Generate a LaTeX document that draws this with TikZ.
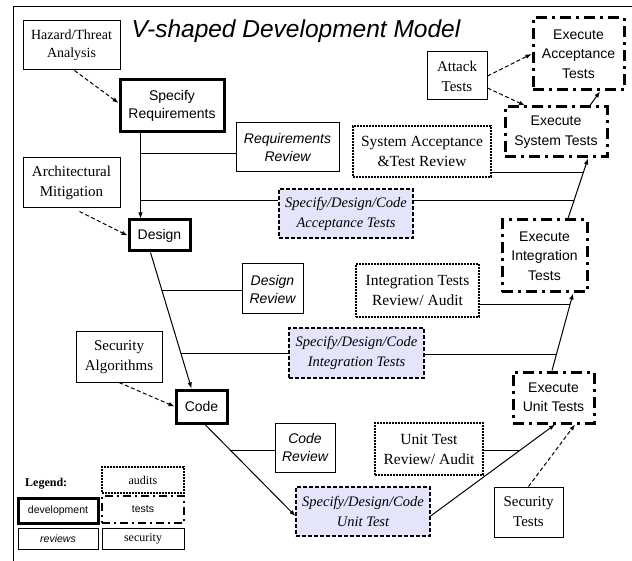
\documentclass[tikz,border=0pt]{standalone}
\usepackage{fontspec}
\setmainfont{Liberation Serif}
\setsansfont{Liberation Sans}
\usetikzlibrary{arrows.meta,calc}
\definecolor{lav}{RGB}{228,228,250}
\begin{document}
\begin{tikzpicture}[x=1pt,y=-1pt,
  every node/.style={align=center, inner sep=0pt},
  dev/.style={draw, line width=3pt, font=\sffamily\fontsize{14}{18}\selectfont},
  rev/.style={draw, line width=1pt, font=\sffamily\itshape\fontsize{14}{18}\selectfont},
  sec/.style={draw, line width=1pt, font=\fontsize{15}{20}\selectfont},
  aud/.style={draw, line width=2pt, dash pattern=on 2pt off 1pt, font=\fontsize{15.5}{20}\selectfont},
  spc/.style={draw, line width=1.2pt, dash pattern=on 4pt off 2pt, fill=lav, font=\itshape\fontsize{14.5}{20}\selectfont},
  tst/.style={draw, line width=3pt, dash pattern=on 11pt off 5pt on 3pt off 5pt, font=\sffamily\fontsize{14}{19.5}\selectfont},
  con/.style={line width=1pt},
  arr/.style={con, -{Latex[length=6pt,width=4.5pt]}},
  darr/.style={arr, dash pattern=on 4pt off 2.5pt}
]
\useasboundingbox (0,0) rectangle (632,561);
\draw[line width=1pt] (13,561) -- (13,7) -- (632,7);

\node[font=\sffamily\itshape\fontsize{24.5}{28}\selectfont, anchor=base] (title) at (296,38) {V-shaped Development Model};

% left side
\node[sec, minimum width=97, minimum height=49, font=\fontsize{14}{18}\selectfont] (haz) at (71.5,45.5) {Hazard/Threat\\Analysis};
\node[dev, minimum width=104, minimum height=52] (spec) at (172,106) {Specify\\Requirements};
\node[rev, minimum width=103, minimum height=49] (rrev) at (287.5,147.5) {Requirements\\Review};
\node[sec, minimum width=97, minimum height=50] (arch) at (71.5,183) {Architectural\\Mitigation};
\node[dev, minimum width=61, minimum height=31] (design) at (159.5,235.5) {Design};
\node[spc, minimum width=134, minimum height=49] (acc) at (346,213.5) {Specify/Design/Code\\Acceptance Tests};
\node[rev, minimum width=61, minimum height=50] (drev) at (272.5,289) {Design\\Review};
\node[sec, minimum width=86, minimum height=50] (secalg) at (119,357) {Security\\Algorithms};
\node[spc, minimum width=135, minimum height=50] (integ) at (356.5,353) {Specify/Design/Code\\Integration Tests};
\node[dev, minimum width=51, minimum height=33] (code) at (201.5,406.5) {Code};
\node[rev, minimum width=60, minimum height=49] (crev) at (305,447.5) {Code\\Review};
\node[spc, minimum width=134, minimum height=49] (unit) at (363,511.5) {Specify/Design/Code\\Unit Test};

% right side
\node[aud, minimum width=108, minimum height=52] (urev) at (429,449) {Unit Test\\Review/ Audit};
\node[aud, minimum width=123, minimum height=53] (irev) at (417.5,290.5) {Integration Tests\\Review/ Audit};
\node[aud, minimum width=138, minimum height=51] (srev) at (422,151.5) {System Acceptance\\\&Test Review};
\node[tst, minimum width=81, minimum height=51] (exunit) at (553.5,397.5) {Execute\\Unit Tests};
\node[tst, minimum width=85, minimum height=72] (exinteg) at (544.5,256) {Execute\\Integration\\Tests};
\node[tst, minimum width=102, minimum height=50] (exsys) at (556,132) {Execute\\System Tests};
\node[tst, minimum width=91, minimum height=72] (exacc) at (578.5,54) {Execute\\Acceptance\\Tests};
\node[sec, minimum width=60, minimum height=48] (attack) at (457,76) {Attack\\Tests};
\node[sec, minimum width=69, minimum height=50] (sectests) at (528.5,512) {Security\\Tests};

% legend
\node[font=\bfseries\fontsize{12}{14}\selectfont, anchor=base west] (legt) at (25,486) {Legend:};
\node[aud, line width=1.8pt, minimum width=82, minimum height=26, font=\fontsize{12}{14}\selectfont] (laud) at (143,480) {audits};
\node[dev, minimum width=80, minimum height=25, font=\sffamily\fontsize{10.5}{12}\selectfont] (ldev) at (58,510.5) {development};
\node[tst, line width=2.5pt, dash pattern=on 8pt off 4pt on 2pt off 4pt, minimum width=82, minimum height=27, font=\sffamily\fontsize{10.5}{12}\selectfont] (ltst) at (143,509.5) {tests};
\node[rev, minimum width=80, minimum height=21, font=\sffamily\itshape\fontsize{10.5}{12}\selectfont] (lrev) at (58,538.5) {reviews};
\node[sec, minimum width=82, minimum height=21, font=\fontsize{12}{14}\selectfont] (lsec) at (143,538.5) {security};

% left branch of the V
\coordinate (v1) at ($(spec.south west)+(22,0)$);
\draw[arr] (v1) -- (v1 |- design.north);
\coordinate (rrin) at ($(rrev.west)+(0,6)$);
\draw[con] (v1 |- rrin) -- (rrin);
\coordinate (accin) at ($(acc.west)+(0,-12.5)$);
\draw[con] (v1 |- accin) -- (accin);

\coordinate (d1) at ($(design.south west)+(23,0)$);
\coordinate (c1) at ($(code.north west)+(17,0)$);
\draw[arr] (d1) -- (c1);
\coordinate (p1) at ($(d1)!0.281!(c1)$);
\draw[con] (p1) -- (p1 -| drev.west);
\coordinate (p2) at ($(d1)!0.741!(c1)$);
\draw[con] (p2) -- (p2 -| integ.west);

\coordinate (c2) at ($(code.south)+(3.5,0)$);
\coordinate (u1) at ($(unit.west)+(0,4.5)$);
\draw[arr] (c2) -- (u1);
\coordinate (p3) at ($(c2)!0.28!(u1)$);
\draw[con] (p3) -- (p3 -| crev.west);

% right branch of the V
\coordinate (u2) at ($(unit.east)+(0,4.5)$);
\coordinate (e1) at ($(exunit.south)+(1.5,0)$);
\draw[arr] (u2) -- (e1);
\coordinate (q1) at ($(u2)!0.72!(e1)$);
\draw[con] (q1 -| urev.east) -- (q1);

\coordinate (e2) at ($(exunit.north)+(-1.5,0)$);
\coordinate (i1) at ($(exinteg.south)+(28.5,0)$);
\draw[arr] (e2) -- (i1);
\coordinate (q2) at ($(e2)!0.2125!(i1)$);
\draw[con] (q2 -| integ.east) -- (q2);
\coordinate (q3) at ($(e2)!0.8625!(i1)$);
\draw[con] (q3 -| irev.east) -- (q3);

\coordinate (i2) at ($(exinteg.north)+(23.5,0)$);
\coordinate (s1) at ($(exsys.south)+(32,0)$);
\draw[arr] (i2) -- (s1);
\coordinate (q4) at ($(i2)!0.3!(s1)$);
\draw[con] (q4 -| acc.east) -- (q4);
\coordinate (q5) at ($(i2)!0.762!(s1)$);
\draw[con] (q5 -| srev.east) -- (q5);

\coordinate (s2) at ($(exsys.north)+(34,0)$);
\coordinate (a1) at ($(exacc.south)+(21.5,0)$);
\draw[arr] (s2) -- (a1);

% security inputs
\draw[darr] ($(haz.south)+(3,0)$) -- ($(spec.west)+(0,-3)$);
\draw[darr] ($(arch.south)+(8,3)$) -- (design.west);
\draw[darr] (secalg.south) -- (code.west);
\draw[darr] (attack.east) -- (exacc.west);
\draw[darr] ($(attack.east)+(0,12)$) -- ($(exsys.north)+(-31,0)$);
\draw[darr] (sectests.north) -- ($(exunit.south)+(21.5,0)$);
\end{tikzpicture}
\end{document}
